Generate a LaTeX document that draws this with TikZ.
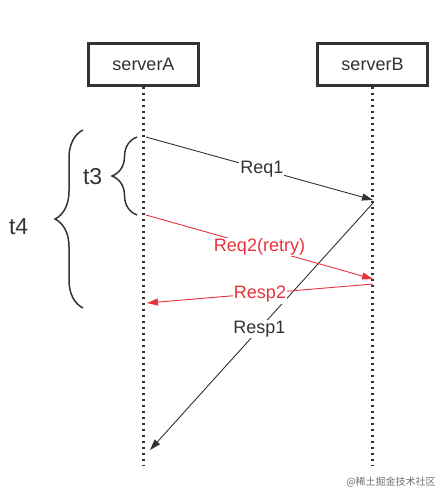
\documentclass[tikz,border=0pt]{standalone}
\usepackage{fontspec}
\setmainfont{Liberation Sans}
\newfontfamily\cjkfont{Noto Sans CJK SC}
\usetikzlibrary{arrows.meta,decorations.pathreplacing}
\definecolor{inkgray}{HTML}{333333}
\definecolor{retryred}{HTML}{E8333C}
\definecolor{markgray}{HTML}{707070}
\tikzset{
  serverbox/.style={
    rectangle, draw=inkgray, line width=2.4pt, fill=white,
    minimum width=110pt, minimum height=42pt,
    font=\fontsize{18}{20}\selectfont, text=inkgray
  },
  lifeline/.style={draw=inkgray, line width=2.4pt, dash pattern=on 2.4pt off 3.6pt},
  msgarrow/.style={-{Triangle[length=11pt,width=7pt]}, line width=0.9pt, color=inkgray},
  retryarrow/.style={msgarrow, color=retryred},
  msglabel/.style={fill=white, inner sep=1pt, font=\fontsize{18}{20}\selectfont},
  timebrace/.style={decorate, decoration={brace, amplitude=#1}, line width=1.5pt, draw=inkgray},
  timelabel/.style={font=\fontsize{23}{25}\selectfont, text=inkgray, inner sep=2pt},
}
\begin{document}
\begin{tikzpicture}[x=1pt, y=-1pt]
  \useasboundingbox (0,0) rectangle (447,500);
  % servers and lifelines
  \node[serverbox] (srvA) at (143.5,64.5) {serverA};
  \node[serverbox] (srvB) at (372.5,64.5) {serverB};
  \coordinate (endA) at (143.5,466);
  \coordinate (endB) at (372.5,466);
  \draw[lifeline] (srvA.south) -- (endA);
  \draw[lifeline] (srvB.south) -- (endB);
  % message points
  \coordinate (req1out) at (146,137);
  \coordinate (req1in) at (373,200);
  \coordinate (req2out) at (146,215);
  \coordinate (req2in) at (373,279);
  \coordinate (resp1out) at (373,203);
  \coordinate (resp1in) at (150,450);
  \coordinate (resp2out) at (373,284);
  \coordinate (resp2in) at (147,303);
  % messages
  \draw[msgarrow] (req1out) -- node[msglabel, text=inkgray, pos=0.51] {Req1} (req1in);
  \draw[msgarrow] (resp1out) -- node[msglabel, text=inkgray, pos=0.51] {Resp1} (resp1in);
  \draw[retryarrow] (req2out) -- node[msglabel, text=retryred, pos=0.5] {Req2(retry)} (req2in);
  \draw[retryarrow] (resp2out) -- node[msglabel, text=retryred, pos=0.5, yshift=-1pt] {Resp2} (resp2in);
  % time spans
  \coordinate (t3bot) at (137,215);
  \coordinate (t3top) at (137,137);
  \coordinate (t4bot) at (83,308);
  \coordinate (t4top) at (83,130);
  \draw[timebrace=25pt] (t3bot) -- node[timelabel, anchor=east, xshift=-32pt, yshift=-1pt] (t3) {t3} (t3top);
  \draw[timebrace=28pt] (t4bot) -- node[timelabel, anchor=east, xshift=-52pt, yshift=-8pt] (t4) {t4} (t4top);
  % watermark
  \node[font=\cjkfont\fontsize{10}{12}\selectfont, text=markgray] (mark) at (391,482) {@稀土掘金技术社区};
\end{tikzpicture}
\end{document}
